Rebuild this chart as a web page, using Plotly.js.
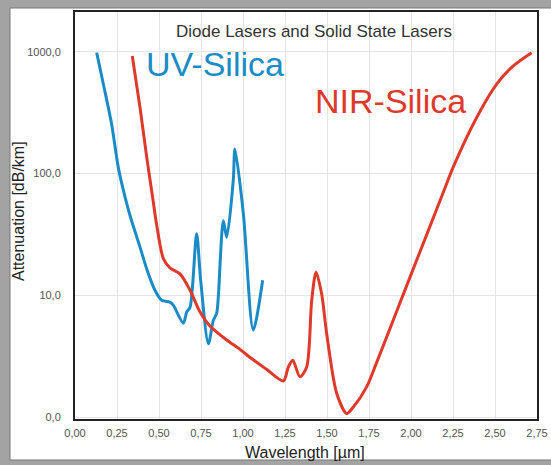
<!DOCTYPE html>
<html>
<head>
<meta charset="utf-8">
<script src="https://cdn.plot.ly/plotly-3.0.1.min.js"></script>
<style>html,body{margin:0;padding:0;background:#fff;}#chart{width:551px;height:465px;}</style>
</head>
<body>
<div id="chart"></div>
<script>
// UV-Silica (wavelength µm, attenuation dB/km)
const uvX = [0.129, 0.169, 0.218, 0.258, 0.298, 0.33, 0.387, 0.43, 0.476, 0.516, 0.565, 0.585, 0.645, 0.665, 0.685, 0.724, 0.748, 0.794, 0.823, 0.843, 0.853, 0.883, 0.903, 0.942, 0.952, 1.002, 1.061, 1.117];
const uvY = [986, 543, 255, 112, 64, 44, 24.9, 16, 11.0, 9.1, 8.8, 8.3, 5.9, 7.3, 8.0, 32, 13.3, 4.0, 6.2, 7.1, 9.7, 41, 30, 88, 159, 47, 5.2, 13.3];
// NIR-Silica
const nirX = [0.341, 0.387, 0.427, 0.462, 0.486, 0.526, 0.565, 0.625, 0.685, 0.744, 0.803, 0.903, 0.982, 1.04, 1.14, 1.24, 1.27, 1.296, 1.339, 1.379, 1.409, 1.435, 1.468, 1.498, 1.558, 1.617, 1.657, 1.736, 1.8, 1.9, 2.0, 2.1, 2.2, 2.25, 2.391, 2.51, 2.609, 2.718];
const nirY = [927, 349, 136, 64, 38, 20, 16.8, 15, 11.0, 7.3, 5.6, 4.3, 3.6, 3.1, 2.47, 1.98, 2.58, 2.93, 2.14, 2.58, 9.1, 15.5, 10.3, 4.86, 1.56, 1.07, 1.21, 1.77, 2.91, 6.55, 14.8, 33.2, 74.8, 112, 289, 543, 768, 986];
// Axis ticks
const xTickVals = [0, 0.25, 0.5, 0.75, 1.0, 1.25, 1.5, 1.75, 2.0, 2.25, 2.5, 2.75];
const xTickText = ["0,00", "0,25", "0,50", "0,75", "1,00", "1,25", "1,50", "1,75", "2,00", "2,25", "2,50", "2,75"];
const yTickVals = [1, 10, 100, 1000];
const yTickText = ["0,0", "10,0", "100,0", "1000,0"];

const blue = '#1b8bc6';
const red = '#de3a2b';
const font = 'Arial, "Liberation Sans", sans-serif';

const traces = [
  {x: uvX, y: uvY, type: 'scatter', mode: 'lines', line: {color: blue, width: 3, shape: 'spline', smoothing: 0.8}, hoverinfo: 'skip'},
  {x: nirX, y: nirY, type: 'scatter', mode: 'lines', line: {color: red, width: 3, shape: 'spline', smoothing: 0.8}, hoverinfo: 'skip'}
];

const layout = {
  width: 551, height: 465,
  margin: {l: 75, r: 14, t: 12, b: 46},
  paper_bgcolor: '#a3a3a3',
  plot_bgcolor: '#ffffff',
  showlegend: false,
  font: {family: font, color: '#555'},
  xaxis: {
    range: [0, 2.75], tickvals: xTickVals, ticktext: xTickText,
    showgrid: true, gridcolor: '#e4e4e4', gridwidth: 1,
    showline: true, mirror: true, linecolor: '#222', linewidth: 2,
    ticks: '', zeroline: false, ticklabelstandoff: 3,
    tickfont: {size: 11, color: '#555', family: font}
  },
  yaxis: {
    type: 'log', range: [-0.016, 3.328], tickvals: yTickVals, ticktext: yTickText,
    showgrid: true, gridcolor: '#e4e4e4', gridwidth: 1,
    showline: true, mirror: true, linecolor: '#222', linewidth: 2,
    ticks: '', zeroline: false, ticklabelstandoff: 10,
    tickfont: {size: 11, color: '#555', family: font}
  },
  shapes: [
    {type: 'rect', xref: 'paper', yref: 'paper', x0: -0.1407, x1: 1.04, y0: -0.1007, y1: 1.0098,
     fillcolor: '#ffffff', line: {color: '#777', width: 1}, layer: 'below'}
  ],
  annotations: [
    {text: 'Diode Lasers and Solid State Lasers', xref: 'paper', yref: 'paper', x: 0.517, y: 0.953,
     xanchor: 'center', yanchor: 'middle', showarrow: false, font: {size: 17, color: '#333', family: font}},
    {text: 'UV-Silica', xref: 'paper', yref: 'paper', x: 0.149, y: 0.872,
     xanchor: 'left', yanchor: 'middle', showarrow: false, font: {size: 34, color: blue, family: font}},
    {text: 'NIR-Silica', xref: 'paper', yref: 'paper', x: 0.515, y: 0.781,
     xanchor: 'left', yanchor: 'middle', showarrow: false, font: {size: 34, color: red, family: font}},
    {text: 'Wavelength [µm]', xref: 'paper', yref: 'paper', x: 0.498, y: -0.0835,
     xanchor: 'center', yanchor: 'middle', showarrow: false, font: {size: 16, color: '#222', family: font}},
    {text: 'Attenuation [dB/km]', xref: 'paper', yref: 'paper', x: -0.1234, y: 0.511, textangle: -90,
     xanchor: 'center', yanchor: 'middle', showarrow: false, font: {size: 16, color: '#222', family: font}}
  ]
};

Plotly.newPlot('chart', traces, layout, {displayModeBar: false, staticPlot: true});
</script>
</body>
</html>
